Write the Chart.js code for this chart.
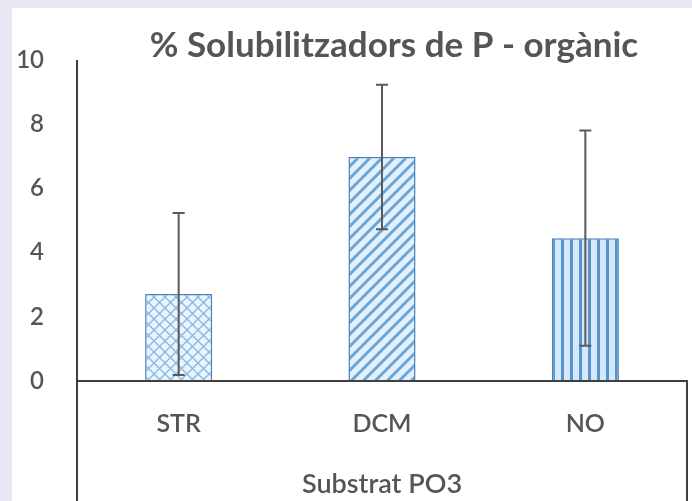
<!DOCTYPE html>
<html>
<head>
<meta charset="utf-8">
<script src="https://cdn.jsdelivr.net/npm/chart.js@4.4.1/dist/chart.umd.min.js"></script>
<style>
  html, body { margin: 0; padding: 0; width: 692px; height: 501px; overflow: hidden; background: #e9e6f1; }
  #sheet { position: absolute; left: 12px; top: 8px; width: 680px; height: 493px; background: #fff; }
  #wrap { position: absolute; left: 0; top: 0; width: 692px; height: 501px; }
</style>
</head>
<body>
<div id="sheet"></div>
<div id="wrap"><canvas id="chart"></canvas></div>
<script>
const categories = ['STR', 'DCM', 'NO'];
const means = [2.71, 6.98, 4.45];
const errors = [2.52, 2.25, 3.35];
const yMin = 0, yMax = 10, yStep = 2;
const chartTitle = '% Solubilitzadors de P - orgànic';
const axisTitle = 'Substrat PO3';

const textColor = '#555555';
const axisColor = '#404040';
const fontFamily = 'Lato, "Open Sans", sans-serif';

// fill patterns like the Excel ones: crosshatch, wide upward diagonal, vertical lines
function makePattern(kind) {
  const size = kind === 'cross' ? 11 : kind === 'diag' ? 12 : 9;
  const c = document.createElement('canvas');
  c.width = size; c.height = size;
  const g = c.getContext('2d');
  g.fillStyle = kind === 'cross' ? '#eaf4fd' : kind === 'diag' ? '#e4f1fc' : '#d3e9fb';
  g.fillRect(0, 0, size, size);
  g.lineCap = 'square';
  if (kind === 'cross') {
    g.strokeStyle = '#86b6e2';
    g.lineWidth = 1.3;
    g.beginPath();
    g.moveTo(0, 0); g.lineTo(size, size);
    g.moveTo(0, size); g.lineTo(size, 0);
    g.stroke();
  } else if (kind === 'diag') {
    g.strokeStyle = '#6aa5da';
    g.lineWidth = 3;
    g.beginPath();
    g.moveTo(-2, size + 2); g.lineTo(size + 2, -2);
    g.moveTo(-2, 2); g.lineTo(2, -2);
    g.moveTo(size - 2, size + 2); g.lineTo(size + 2, size - 2);
    g.stroke();
  } else {
    g.strokeStyle = '#5a92cc';
    g.lineWidth = 3;
    g.beginPath();
    g.moveTo(size / 2, 0); g.lineTo(size / 2, size);
    g.stroke();
  }
  return g.createPattern(c, 'repeat');
}

const patterns = [makePattern('cross'), makePattern('diag'), makePattern('vert')];

const errorBars = {
  id: 'errorBars',
  afterDatasetsDraw(chart) {
    const { ctx, scales: { x, y } } = chart;
    ctx.save();
    ctx.strokeStyle = '#5a5a5a';
    ctx.lineWidth = 2;
    means.forEach((m, i) => {
      const px = x.getPixelForValue(i);
      const top = y.getPixelForValue(m + errors[i]);
      const bot = y.getPixelForValue(Math.max(0, m - errors[i]));
      ctx.beginPath();
      ctx.moveTo(px, top); ctx.lineTo(px, bot);
      ctx.moveTo(px - 6, top); ctx.lineTo(px + 6, top);
      ctx.moveTo(px - 6, bot); ctx.lineTo(px + 6, bot);
      ctx.stroke();
    });
    ctx.restore();
  }
};

// axis lines, the box under the categories and the title
const frame = {
  id: 'frame',
  afterDraw(chart) {
    const { ctx, chartArea: a } = chart;
    ctx.save();
    ctx.strokeStyle = axisColor;
    ctx.lineWidth = 2;
    ctx.beginPath();
    ctx.moveTo(a.left, a.top); ctx.lineTo(a.left, chart.height);
    ctx.moveTo(a.left, a.bottom); ctx.lineTo(a.right, a.bottom);
    ctx.lineTo(a.right, chart.height);
    ctx.stroke();

    ctx.fillStyle = textColor;
    ctx.font = 'bold 35px ' + fontFamily;
    ctx.textAlign = 'center';
    ctx.textBaseline = 'middle';
    ctx.fillText(chartTitle, (a.left + a.right) / 2 + 12, 46);
    ctx.restore();
  }
};

new Chart(document.getElementById('chart'), {
  type: 'bar',
  plugins: [errorBars, frame],
  data: {
    labels: categories,
    datasets: [{
      data: means,
      backgroundColor: patterns,
      borderColor: '#4a7fba',
      borderWidth: 1.5,
      categoryPercentage: 0.66,
      barPercentage: 0.5
    }]
  },
  options: {
    responsive: true,
    maintainAspectRatio: false,
    animation: false,
    layout: { padding: { top: 60, right: 5, left: 0, bottom: 0 } },
    plugins: {
      legend: { display: false },
      tooltip: { enabled: false }
    },
    scales: {
      x: {
        grid: { display: false },
        border: { display: false },
        ticks: { color: textColor, font: { family: fontFamily, size: 25, weight: '600' }, padding: 20 },
        title: {
          display: true,
          text: axisTitle,
          color: textColor,
          font: { family: fontFamily, size: 27, weight: '600' },
          padding: { top: 0, bottom: 1 }
        },
        afterFit(scale) { scale.height = 120; }
      },
      y: {
        min: yMin,
        max: yMax,
        grid: { display: false },
        border: { display: false },
        ticks: { stepSize: yStep, color: textColor, font: { family: fontFamily, size: 24, weight: '600' }, padding: 25 },
        afterFit(scale) { scale.width = 77; }
      }
    }
  }
});
</script>
</body>
</html>
